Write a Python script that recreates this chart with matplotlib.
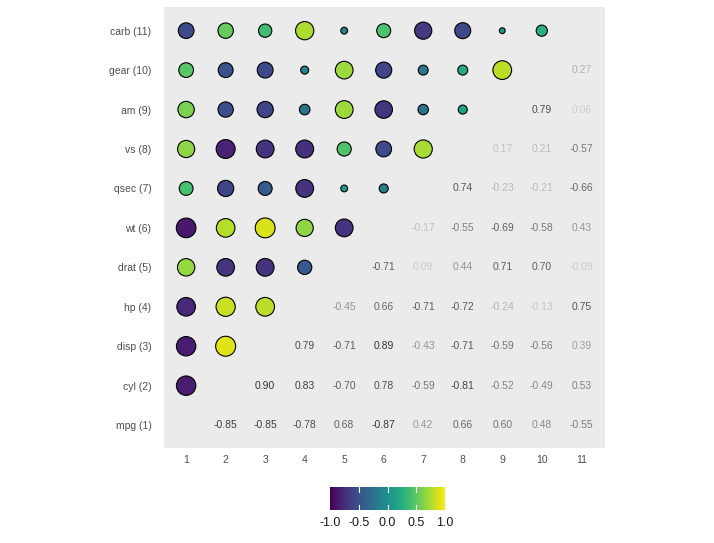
import numpy as np
import matplotlib
matplotlib.use("Agg")
import matplotlib.pyplot as plt
from matplotlib.colors import Normalize, to_rgb

plt.rcParams['font.family'] = ['Liberation Sans', 'DejaVu Sans']

variables = ["mpg", "cyl", "disp", "hp", "drat", "wt", "qsec", "vs", "am", "gear", "carb"]

# upper-triangle correlations (row i with columns i+1..)
corr_upper = [
    [-0.85, -0.85, -0.78, 0.68, -0.87, 0.42, 0.66, 0.60, 0.48, -0.55],
    [0.90, 0.83, -0.70, 0.78, -0.59, -0.81, -0.52, -0.49, 0.53],
    [0.79, -0.71, 0.89, -0.43, -0.71, -0.59, -0.56, 0.39],
    [-0.45, 0.66, -0.71, -0.72, -0.24, -0.13, 0.75],
    [-0.71, 0.09, 0.44, 0.71, 0.70, -0.09],
    [-0.17, -0.55, -0.69, -0.58, 0.43],
    [0.74, -0.23, -0.21, -0.66],
    [0.17, 0.21, -0.57],
    [0.79, 0.06],
    [0.27],
]

n = len(variables)
C = np.eye(n)
for i, row in enumerate(corr_upper):
    for k, v in enumerate(row):
        j = i + 1 + k
        C[i, j] = v
        C[j, i] = v

ylabels = [f"{v} ({i+1})" for i, v in enumerate(variables)]
xlabels = [str(i + 1) for i in range(n)]
cbar_ticks = [-1.0, -0.5, 0.0, 0.5, 1.0]

fig = plt.figure(figsize=(7.14, 5.43), dpi=100)
ax = fig.add_axes([164 / 714, 1 - 448 / 543, 441 / 714, 441 / 543])
bg = "#EBEBEB"
ax.set_facecolor(bg)
for s in ax.spines.values():
    s.set_visible(False)

cmap = plt.get_cmap("viridis")
norm = Normalize(-1, 1)

# circles: x < y
xs, ys, vals = [], [], []
for i in range(n):
    for j in range(i + 1, n):
        xs.append(i + 1)
        ys.append(j + 1)
        vals.append(C[i, j])
vals = np.array(vals)
ax.scatter(xs, ys, s=4 + 225 * np.abs(vals), c=vals, cmap=cmap, norm=norm,
           edgecolors="black", linewidths=0.8, zorder=3)

# text: x > y
bgc = np.array(to_rgb(bg))
dark = np.array(to_rgb("#1a1a1a"))
for i in range(n):
    for j in range(i + 1, n):
        v = C[i, j]
        a = 0.12 + 0.88 * abs(v) ** 1.3
        col = bgc * (1 - a) + dark * a
        ax.text(j + 1, i + 1, f"{v:.2f}", ha="center", va="center",
                fontsize=7.5, color=col)

ax.set_xlim(0.44, 11.6)
ax.set_ylim(0.42, 11.6)
ax.set_xticks(range(1, n + 1))
ax.set_xticklabels(xlabels)
ax.set_yticks(range(1, n + 1))
ax.set_yticklabels(ylabels)
ax.tick_params(axis="x", length=0, labelsize=7.5, colors="#4D4D4D", pad=5)
ax.tick_params(axis="y", length=0, labelsize=7.5, colors="#4D4D4D", pad=9)

# colorbar
cax = fig.add_axes([330 / 714, 1 - 510 / 543, 115 / 714, 23 / 543])
grad = np.linspace(-1, 1, 256).reshape(1, -1)
cax.imshow(grad, aspect="auto", cmap=cmap, norm=norm, extent=[-1, 1, 0, 1])
for t in cbar_ticks[1:-1]:
    cax.plot([t, t], [0, 0.2], color="white", lw=0.8)
    cax.plot([t, t], [0.8, 1], color="white", lw=0.8)
cax.set_xlim(-1, 1)
cax.set_ylim(0, 1)
cax.set_yticks([])
cax.set_xticks(cbar_ticks)
cax.set_xticklabels([f"{t:.1f}" for t in cbar_ticks])
cax.tick_params(length=0, labelsize=9, colors="#1a1a1a", pad=5)
for s in cax.spines.values():
    s.set_visible(False)

fig.savefig("out.png", dpi=100)
